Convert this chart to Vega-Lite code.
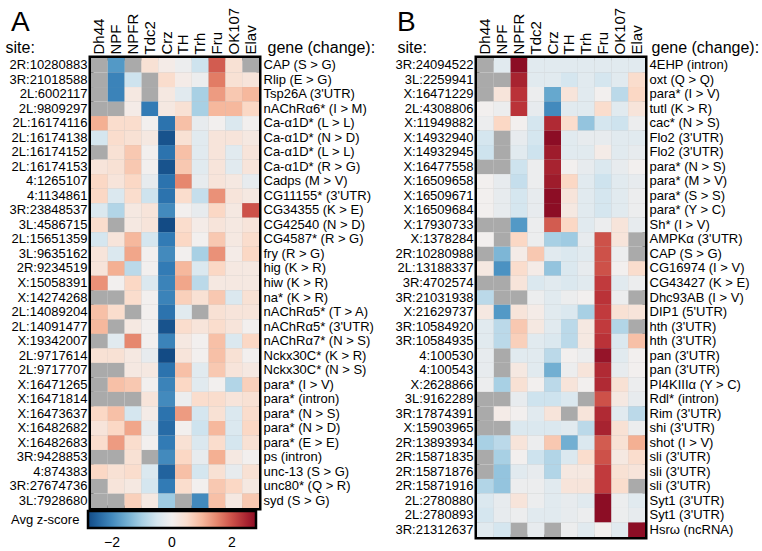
{
"$schema": "https://vega.github.io/schema/vega-lite/v6.json",
"padding": {"left": 2, "top": 4, "right": 0, "bottom": 0},
"background": "white",
"spacing": 14,
"config": {
  "font": "Liberation Sans",
  "view": {"stroke": "black", "strokeWidth": 5},
  "axis": {"domain": false, "ticks": false, "grid": false, "labelColor": "black", "titleColor": "black", "titleFontWeight": "normal"},
  "title": {"fontWeight": "normal", "color": "black"}
},
"resolve": {"scale": {"color": "independent"}},
"datasets": {
"rowsA": [
{"r":1,"k":"2R:10280883|CAP (S > G)"},{"r":2,"k":"3R:21018588|Rlip (E > G)"},{"r":3,"k":"2L:6002117|Tsp26A (3'UTR)"},{"r":4,"k":"2L:9809297|nAChRα6* (I > M)"},{"r":5,"k":"2L:16174116|Ca-α1D* (L > L)"},{"r":6,"k":"2L:16174138|Ca-α1D* (N > D)"},{"r":7,"k":"2L:16174152|Ca-α1D* (L > L)"},{"r":8,"k":"2L:16174153|Ca-α1D* (R > G)"},{"r":9,"k":"4:1265107|Cadps (M > V)"},{"r":10,"k":"4:1134861|CG11155* (3'UTR)"},{"r":11,"k":"3R:23848537|CG34355 (K > E)"},{"r":12,"k":"3L:4586715|CG42540 (N > D)"},{"r":13,"k":"2L:15651359|CG4587* (R > G)"},{"r":14,"k":"3L:9635162|fry (R > G)"},{"r":15,"k":"2R:9234519|hig (K > R)"},{"r":16,"k":"X:15058391|hiw (K > R)"},{"r":17,"k":"X:14274268|na* (K > R)"},{"r":18,"k":"2L:14089204|nAChRα5* (T > A)"},{"r":19,"k":"2L:14091477|nAChRα5* (3'UTR)"},{"r":20,"k":"X:19342007|nAChRα7* (N > S)"},{"r":21,"k":"2L:9717614|Nckx30C* (K > R)"},{"r":22,"k":"2L:9717707|Nckx30C* (N > S)"},{"r":23,"k":"X:16471265|para* (I > V)"},{"r":24,"k":"X:16471814|para* (intron)"},{"r":25,"k":"X:16473637|para* (N > S)"},{"r":26,"k":"X:16482682|para* (N > D)"},{"r":27,"k":"X:16482683|para* (E > E)"},{"r":28,"k":"3R:9428853|ps (intron)"},{"r":29,"k":"4:874383|unc-13 (S > G)"},{"r":30,"k":"3R:27674736|unc80* (Q > R)"},{"r":31,"k":"3L:7928680|syd (S > G)"}
],
"rowsB": [
{"r":1,"k":"3R:24094522|4EHP (intron)"},{"r":2,"k":"3L:2259941|oxt (Q > Q)"},{"r":3,"k":"X:16471229|para* (I > V)"},{"r":4,"k":"2L:4308806|tutl (K > R)"},{"r":5,"k":"X:11949882|cac* (N > S)"},{"r":6,"k":"X:14932940|Flo2 (3'UTR)"},{"r":7,"k":"X:14932945|Flo2 (3'UTR)"},{"r":8,"k":"X:16477558|para* (N > S)"},{"r":9,"k":"X:16509658|para* (M > V)"},{"r":10,"k":"X:16509671|para* (S > S)"},{"r":11,"k":"X:16509684|para* (Y > C)"},{"r":12,"k":"X:17930733|Sh* (I > V)"},{"r":13,"k":"X:1378284|AMPKα (3'UTR)"},{"r":14,"k":"2R:10280988|CAP (S > G)"},{"r":15,"k":"2L:13188337|CG16974 (I > V)"},{"r":16,"k":"3R:4702574|CG43427 (K > E)"},{"r":17,"k":"3R:21031938|Dhc93AB (I > V)"},{"r":18,"k":"X:21629737|DIP1 (5'UTR)"},{"r":19,"k":"3R:10584920|hth (3'UTR)"},{"r":20,"k":"3R:10584935|hth (3'UTR)"},{"r":21,"k":"4:100530|pan (3'UTR)"},{"r":22,"k":"4:100543|pan (3'UTR)"},{"r":23,"k":"X:2628866|PI4KIIIα (Y > C)"},{"r":24,"k":"3L:9162289|Rdl* (intron)"},{"r":25,"k":"3R:17874391|Rim (3'UTR)"},{"r":26,"k":"X:15903965|shi (3'UTR)"},{"r":27,"k":"2R:13893934|shot (I > V)"},{"r":28,"k":"2R:15871835|sli (3'UTR)"},{"r":29,"k":"2R:15871876|sli (3'UTR)"},{"r":30,"k":"2R:15871916|sli (3'UTR)"},{"r":31,"k":"2L:2780880|Syt1 (3'UTR)"},{"r":32,"k":"2L:2780893|Syt1 (3'UTR)"},{"r":33,"k":"3R:21312637|Hsrω (ncRNA)"}
],
"cellsA": [
{"r":1,"c":"Dh44","z":null},{"r":1,"c":"NPF","z":-1.8},{"r":1,"c":"NPFR","z":null},{"r":1,"c":"Tdc2","z":0.4},{"r":1,"c":"Crz","z":0.1},{"r":1,"c":"TH","z":-0.1},{"r":1,"c":"Trh","z":-0.6},{"r":1,"c":"Fru","z":1.9},{"r":1,"c":"OK107","z":0.4},{"r":1,"c":"Elav","z":null},
{"r":2,"c":"Dh44","z":null},{"r":2,"c":"NPF","z":-2.1},{"r":2,"c":"NPFR","z":-0.6},{"r":2,"c":"Tdc2","z":null},{"r":2,"c":"Crz","z":0.5},{"r":2,"c":"TH","z":0.1},{"r":2,"c":"Trh","z":-0.1},{"r":2,"c":"Fru","z":1.6},{"r":2,"c":"OK107","z":0.4},{"r":2,"c":"Elav","z":0.3},
{"r":3,"c":"Dh44","z":null},{"r":3,"c":"NPF","z":-2.1},{"r":3,"c":"NPFR","z":0.2},{"r":3,"c":"Tdc2","z":null},{"r":3,"c":"Crz","z":0.2},{"r":3,"c":"TH","z":-0.3},{"r":3,"c":"Trh","z":-1.0},{"r":3,"c":"Fru","z":1.3},{"r":3,"c":"OK107","z":0.8},{"r":3,"c":"Elav","z":1.0},
{"r":4,"c":"Dh44","z":null},{"r":4,"c":"NPF","z":null},{"r":4,"c":"NPFR","z":0.1},{"r":4,"c":"Tdc2","z":-2.2},{"r":4,"c":"Crz","z":0.2},{"r":4,"c":"TH","z":0.4},{"r":4,"c":"Trh","z":-1.0},{"r":4,"c":"Fru","z":1.0},{"r":4,"c":"OK107","z":1.0},{"r":4,"c":"Elav","z":0.6},
{"r":5,"c":"Dh44","z":1.1},{"r":5,"c":"NPF","z":0.5},{"r":5,"c":"NPFR","z":0.5},{"r":5,"c":"Tdc2","z":0.0},{"r":5,"c":"Crz","z":-2.3},{"r":5,"c":"TH","z":0.9},{"r":5,"c":"Trh","z":-0.2},{"r":5,"c":"Fru","z":0.0},{"r":5,"c":"OK107","z":-0.4},{"r":5,"c":"Elav","z":0.0},
{"r":6,"c":"Dh44","z":-0.5},{"r":6,"c":"NPF","z":0.5},{"r":6,"c":"NPFR","z":0.4},{"r":6,"c":"Tdc2","z":0.2},{"r":6,"c":"Crz","z":-2.7},{"r":6,"c":"TH","z":0.4},{"r":6,"c":"Trh","z":-0.3},{"r":6,"c":"Fru","z":0.3},{"r":6,"c":"OK107","z":0.3},{"r":6,"c":"Elav","z":0.2},
{"r":7,"c":"Dh44","z":null},{"r":7,"c":"NPF","z":0.4},{"r":7,"c":"NPFR","z":0.8},{"r":7,"c":"Tdc2","z":0.0},{"r":7,"c":"Crz","z":-2.3},{"r":7,"c":"TH","z":0.9},{"r":7,"c":"Trh","z":-0.3},{"r":7,"c":"Fru","z":0.3},{"r":7,"c":"OK107","z":-0.3},{"r":7,"c":"Elav","z":0.3},
{"r":8,"c":"Dh44","z":0.3},{"r":8,"c":"NPF","z":0.4},{"r":8,"c":"NPFR","z":0.8},{"r":8,"c":"Tdc2","z":0.0},{"r":8,"c":"Crz","z":-2.7},{"r":8,"c":"TH","z":0.8},{"r":8,"c":"Trh","z":-0.3},{"r":8,"c":"Fru","z":0.3},{"r":8,"c":"OK107","z":-0.3},{"r":8,"c":"Elav","z":0.3},
{"r":9,"c":"Dh44","z":0.6},{"r":9,"c":"NPF","z":0.3},{"r":9,"c":"NPFR","z":0.6},{"r":9,"c":"Tdc2","z":-0.2},{"r":9,"c":"Crz","z":-2.3},{"r":9,"c":"TH","z":1.5},{"r":9,"c":"Trh","z":-0.2},{"r":9,"c":"Fru","z":0.3},{"r":9,"c":"OK107","z":0.2},{"r":9,"c":"Elav","z":-0.2},
{"r":10,"c":"Dh44","z":0.6},{"r":10,"c":"NPF","z":-0.4},{"r":10,"c":"NPFR","z":0.5},{"r":10,"c":"Tdc2","z":-0.6},{"r":10,"c":"Crz","z":-2.3},{"r":10,"c":"TH","z":0.5},{"r":10,"c":"Trh","z":-0.7},{"r":10,"c":"Fru","z":1.4},{"r":10,"c":"OK107","z":0.3},{"r":10,"c":"Elav","z":0.2},
{"r":11,"c":"Dh44","z":-0.4},{"r":11,"c":"NPF","z":-0.9},{"r":11,"c":"NPFR","z":0.2},{"r":11,"c":"Tdc2","z":0.3},{"r":11,"c":"Crz","z":-2.0},{"r":11,"c":"TH","z":0.0},{"r":11,"c":"Trh","z":-0.2},{"r":11,"c":"Fru","z":0.6},{"r":11,"c":"OK107","z":0.2},{"r":11,"c":"Elav","z":2.0},
{"r":12,"c":"Dh44","z":0.5},{"r":12,"c":"NPF","z":null},{"r":12,"c":"NPFR","z":0.2},{"r":12,"c":"Tdc2","z":0.3},{"r":12,"c":"Crz","z":-2.8},{"r":12,"c":"TH","z":0.5},{"r":12,"c":"Trh","z":0.1},{"r":12,"c":"Fru","z":0.3},{"r":12,"c":"OK107","z":0.2},{"r":12,"c":"Elav","z":0.3},
{"r":13,"c":"Dh44","z":-0.5},{"r":13,"c":"NPF","z":0.3},{"r":13,"c":"NPFR","z":1.0},{"r":13,"c":"Tdc2","z":-0.5},{"r":13,"c":"Crz","z":-2.2},{"r":13,"c":"TH","z":0.6},{"r":13,"c":"Trh","z":0.0},{"r":13,"c":"Fru","z":0.8},{"r":13,"c":"OK107","z":0.2},{"r":13,"c":"Elav","z":0.5},
{"r":14,"c":"Dh44","z":0.3},{"r":14,"c":"NPF","z":-0.4},{"r":14,"c":"NPFR","z":1.2},{"r":14,"c":"Tdc2","z":0.0},{"r":14,"c":"Crz","z":-2.0},{"r":14,"c":"TH","z":0.0},{"r":14,"c":"Trh","z":-1.0},{"r":14,"c":"Fru","z":1.4},{"r":14,"c":"OK107","z":0.1},{"r":14,"c":"Elav","z":0.6},
{"r":15,"c":"Dh44","z":0.3},{"r":15,"c":"NPF","z":1.1},{"r":15,"c":"NPFR","z":-0.8},{"r":15,"c":"Tdc2","z":0.0},{"r":15,"c":"Crz","z":-2.2},{"r":15,"c":"TH","z":1.0},{"r":15,"c":"Trh","z":-0.4},{"r":15,"c":"Fru","z":0.6},{"r":15,"c":"OK107","z":0.2},{"r":15,"c":"Elav","z":0.2},
{"r":16,"c":"Dh44","z":1.4},{"r":16,"c":"NPF","z":0.0},{"r":16,"c":"NPFR","z":0.6},{"r":16,"c":"Tdc2","z":-0.4},{"r":16,"c":"Crz","z":-2.1},{"r":16,"c":"TH","z":1.2},{"r":16,"c":"Trh","z":-0.8},{"r":16,"c":"Fru","z":0.2},{"r":16,"c":"OK107","z":0.2},{"r":16,"c":"Elav","z":0.2},
{"r":17,"c":"Dh44","z":null},{"r":17,"c":"NPF","z":null},{"r":17,"c":"NPFR","z":0.5},{"r":17,"c":"Tdc2","z":0.0},{"r":17,"c":"Crz","z":-2.1},{"r":17,"c":"TH","z":0.7},{"r":17,"c":"Trh","z":0.4},{"r":17,"c":"Fru","z":0.8},{"r":17,"c":"OK107","z":-0.4},{"r":17,"c":"Elav","z":0.4},
{"r":18,"c":"Dh44","z":0.9},{"r":18,"c":"NPF","z":0.5},{"r":18,"c":"NPFR","z":null},{"r":18,"c":"Tdc2","z":0.0},{"r":18,"c":"Crz","z":-2.3},{"r":18,"c":"TH","z":-0.3},{"r":18,"c":"Trh","z":null},{"r":18,"c":"Fru","z":0.4},{"r":18,"c":"OK107","z":0.3},{"r":18,"c":"Elav","z":0.3},
{"r":19,"c":"Dh44","z":1.0},{"r":19,"c":"NPF","z":null},{"r":19,"c":"NPFR","z":0.2},{"r":19,"c":"Tdc2","z":0.0},{"r":19,"c":"Crz","z":-2.7},{"r":19,"c":"TH","z":0.5},{"r":19,"c":"Trh","z":0.3},{"r":19,"c":"Fru","z":0.5},{"r":19,"c":"OK107","z":0.3},{"r":19,"c":"Elav","z":0.0},
{"r":20,"c":"Dh44","z":null},{"r":20,"c":"NPF","z":-0.3},{"r":20,"c":"NPFR","z":1.5},{"r":20,"c":"Tdc2","z":0.0},{"r":20,"c":"Crz","z":-2.1},{"r":20,"c":"TH","z":0.2},{"r":20,"c":"Trh","z":0.0},{"r":20,"c":"Fru","z":0.9},{"r":20,"c":"OK107","z":-0.4},{"r":20,"c":"Elav","z":0.6},
{"r":21,"c":"Dh44","z":0.4},{"r":21,"c":"NPF","z":0.4},{"r":21,"c":"NPFR","z":0.2},{"r":21,"c":"Tdc2","z":-0.2},{"r":21,"c":"Crz","z":-2.8},{"r":21,"c":"TH","z":0.3},{"r":21,"c":"Trh","z":0.0},{"r":21,"c":"Fru","z":0.9},{"r":21,"c":"OK107","z":0.4},{"r":21,"c":"Elav","z":0.0},
{"r":22,"c":"Dh44","z":null},{"r":22,"c":"NPF","z":null},{"r":22,"c":"NPFR","z":0.2},{"r":22,"c":"Tdc2","z":0.2},{"r":22,"c":"Crz","z":-2.3},{"r":22,"c":"TH","z":0.9},{"r":22,"c":"Trh","z":-0.3},{"r":22,"c":"Fru","z":0.8},{"r":22,"c":"OK107","z":0.3},{"r":22,"c":"Elav","z":0.2},
{"r":23,"c":"Dh44","z":null},{"r":23,"c":"NPF","z":0.9},{"r":23,"c":"NPFR","z":0.8},{"r":23,"c":"Tdc2","z":0.0},{"r":23,"c":"Crz","z":-2.1},{"r":23,"c":"TH","z":0.6},{"r":23,"c":"Trh","z":-0.3},{"r":23,"c":"Fru","z":0.0},{"r":23,"c":"OK107","z":-0.9},{"r":23,"c":"Elav","z":0.7},
{"r":24,"c":"Dh44","z":null},{"r":24,"c":"NPF","z":null},{"r":24,"c":"NPFR","z":null},{"r":24,"c":"Tdc2","z":0.3},{"r":24,"c":"Crz","z":-2.0},{"r":24,"c":"TH","z":-0.1},{"r":24,"c":"Trh","z":0.5},{"r":24,"c":"Fru","z":0.5},{"r":24,"c":"OK107","z":0.3},{"r":24,"c":"Elav","z":0.4},
{"r":25,"c":"Dh44","z":0.6},{"r":25,"c":"NPF","z":0.9},{"r":25,"c":"NPFR","z":-0.5},{"r":25,"c":"Tdc2","z":0.1},{"r":25,"c":"Crz","z":-2.3},{"r":25,"c":"TH","z":1.3},{"r":25,"c":"Trh","z":-0.5},{"r":25,"c":"Fru","z":0.4},{"r":25,"c":"OK107","z":-0.4},{"r":25,"c":"Elav","z":0.5},
{"r":26,"c":"Dh44","z":0.3},{"r":26,"c":"NPF","z":0.6},{"r":26,"c":"NPFR","z":1.2},{"r":26,"c":"Tdc2","z":-0.2},{"r":26,"c":"Crz","z":-2.4},{"r":26,"c":"TH","z":0.0},{"r":26,"c":"Trh","z":-0.6},{"r":26,"c":"Fru","z":1.0},{"r":26,"c":"OK107","z":-0.4},{"r":26,"c":"Elav","z":0.6},
{"r":27,"c":"Dh44","z":0.5},{"r":27,"c":"NPF","z":1.3},{"r":27,"c":"NPFR","z":0.5},{"r":27,"c":"Tdc2","z":0.0},{"r":27,"c":"Crz","z":-2.2},{"r":27,"c":"TH","z":0.4},{"r":27,"c":"Trh","z":-0.4},{"r":27,"c":"Fru","z":0.5},{"r":27,"c":"OK107","z":-0.5},{"r":27,"c":"Elav","z":0.4},
{"r":28,"c":"Dh44","z":null},{"r":28,"c":"NPF","z":null},{"r":28,"c":"NPFR","z":0.4},{"r":28,"c":"Tdc2","z":null},{"r":28,"c":"Crz","z":-2.0},{"r":28,"c":"TH","z":0.6},{"r":28,"c":"Trh","z":-0.2},{"r":28,"c":"Fru","z":1.1},{"r":28,"c":"OK107","z":0.2},{"r":28,"c":"Elav","z":0.0},
{"r":29,"c":"Dh44","z":0.6},{"r":29,"c":"NPF","z":0.4},{"r":29,"c":"NPFR","z":0.5},{"r":29,"c":"Tdc2","z":-0.4},{"r":29,"c":"Crz","z":-2.5},{"r":29,"c":"TH","z":0.9},{"r":29,"c":"Trh","z":-0.5},{"r":29,"c":"Fru","z":0.4},{"r":29,"c":"OK107","z":-0.2},{"r":29,"c":"Elav","z":0.4},
{"r":30,"c":"Dh44","z":null},{"r":30,"c":"NPF","z":0.3},{"r":30,"c":"NPFR","z":0.2},{"r":30,"c":"Tdc2","z":-0.5},{"r":30,"c":"Crz","z":-2.2},{"r":30,"c":"TH","z":0.5},{"r":30,"c":"Trh","z":0.0},{"r":30,"c":"Fru","z":0.8},{"r":30,"c":"OK107","z":0.6},{"r":30,"c":"Elav","z":0.2},
{"r":31,"c":"Dh44","z":null},{"r":31,"c":"NPF","z":null},{"r":31,"c":"NPFR","z":0.7},{"r":31,"c":"Tdc2","z":0.2},{"r":31,"c":"Crz","z":-1.1},{"r":31,"c":"TH","z":null},{"r":31,"c":"Trh","z":-2.0},{"r":31,"c":"Fru","z":0.9},{"r":31,"c":"OK107","z":0.2},{"r":31,"c":"Elav","z":0.8}
],
"cellsB": [
{"r":1,"c":"Dh44","z":null},{"r":1,"c":"NPF","z":-0.3},{"r":1,"c":"NPFR","z":2.8},{"r":1,"c":"Tdc2","z":-0.3},{"r":1,"c":"Crz","z":-0.3},{"r":1,"c":"TH","z":-0.3},{"r":1,"c":"Trh","z":-0.3},{"r":1,"c":"Fru","z":-0.3},{"r":1,"c":"OK107","z":-0.3},{"r":1,"c":"Elav","z":-0.3},
{"r":2,"c":"Dh44","z":null},{"r":2,"c":"NPF","z":null},{"r":2,"c":"NPFR","z":2.5},{"r":2,"c":"Tdc2","z":-0.3},{"r":2,"c":"Crz","z":-0.3},{"r":2,"c":"TH","z":-0.5},{"r":2,"c":"Trh","z":-0.3},{"r":2,"c":"Fru","z":-0.5},{"r":2,"c":"OK107","z":-0.3},{"r":2,"c":"Elav","z":0.5},
{"r":3,"c":"Dh44","z":null},{"r":3,"c":"NPF","z":0.3},{"r":3,"c":"NPFR","z":2.3},{"r":3,"c":"Tdc2","z":-0.1},{"r":3,"c":"Crz","z":-1.6},{"r":3,"c":"TH","z":0.3},{"r":3,"c":"Trh","z":-0.3},{"r":3,"c":"Fru","z":0.0},{"r":3,"c":"OK107","z":-0.8},{"r":3,"c":"Elav","z":0.6},
{"r":4,"c":"Dh44","z":0.0},{"r":4,"c":"NPF","z":-0.1},{"r":4,"c":"NPFR","z":2.3},{"r":4,"c":"Tdc2","z":-0.2},{"r":4,"c":"Crz","z":-2.0},{"r":4,"c":"TH","z":-0.3},{"r":4,"c":"Trh","z":-0.3},{"r":4,"c":"Fru","z":0.5},{"r":4,"c":"OK107","z":-0.3},{"r":4,"c":"Elav","z":0.3},
{"r":5,"c":"Dh44","z":-0.1},{"r":5,"c":"NPF","z":0.6},{"r":5,"c":"NPFR","z":0.0},{"r":5,"c":"Tdc2","z":-0.5},{"r":5,"c":"Crz","z":2.4},{"r":5,"c":"TH","z":0.5},{"r":5,"c":"Trh","z":-1.2},{"r":5,"c":"Fru","z":-0.5},{"r":5,"c":"OK107","z":-0.6},{"r":5,"c":"Elav","z":-0.1},
{"r":6,"c":"Dh44","z":-0.5},{"r":6,"c":"NPF","z":null},{"r":6,"c":"NPFR","z":-0.2},{"r":6,"c":"Tdc2","z":-0.5},{"r":6,"c":"Crz","z":2.8},{"r":6,"c":"TH","z":-0.3},{"r":6,"c":"Trh","z":-0.2},{"r":6,"c":"Fru","z":-0.2},{"r":6,"c":"OK107","z":-0.3},{"r":6,"c":"Elav","z":-0.3},
{"r":7,"c":"Dh44","z":-0.6},{"r":7,"c":"NPF","z":null},{"r":7,"c":"NPFR","z":-0.3},{"r":7,"c":"Tdc2","z":-0.6},{"r":7,"c":"Crz","z":2.6},{"r":7,"c":"TH","z":-0.3},{"r":7,"c":"Trh","z":-0.3},{"r":7,"c":"Fru","z":0.1},{"r":7,"c":"OK107","z":-0.3},{"r":7,"c":"Elav","z":-0.2},
{"r":8,"c":"Dh44","z":null},{"r":8,"c":"NPF","z":null},{"r":8,"c":"NPFR","z":-0.6},{"r":8,"c":"Tdc2","z":-0.1},{"r":8,"c":"Crz","z":2.5},{"r":8,"c":"TH","z":0.0},{"r":8,"c":"Trh","z":-0.2},{"r":8,"c":"Fru","z":-0.4},{"r":8,"c":"OK107","z":-0.2},{"r":8,"c":"Elav","z":0.0},
{"r":9,"c":"Dh44","z":0.0},{"r":9,"c":"NPF","z":-0.2},{"r":9,"c":"NPFR","z":-0.7},{"r":9,"c":"Tdc2","z":-0.1},{"r":9,"c":"Crz","z":2.6},{"r":9,"c":"TH","z":0.6},{"r":9,"c":"Trh","z":-0.3},{"r":9,"c":"Fru","z":-0.6},{"r":9,"c":"OK107","z":-0.3},{"r":9,"c":"Elav","z":-0.2},
{"r":10,"c":"Dh44","z":0.0},{"r":10,"c":"NPF","z":-0.2},{"r":10,"c":"NPFR","z":-0.5},{"r":10,"c":"Tdc2","z":-0.2},{"r":10,"c":"Crz","z":2.8},{"r":10,"c":"TH","z":0.3},{"r":10,"c":"Trh","z":-0.3},{"r":10,"c":"Fru","z":-0.5},{"r":10,"c":"OK107","z":-0.3},{"r":10,"c":"Elav","z":-0.1},
{"r":11,"c":"Dh44","z":0.0},{"r":11,"c":"NPF","z":-0.2},{"r":11,"c":"NPFR","z":-0.5},{"r":11,"c":"Tdc2","z":-0.2},{"r":11,"c":"Crz","z":2.8},{"r":11,"c":"TH","z":0.2},{"r":11,"c":"Trh","z":-0.3},{"r":11,"c":"Fru","z":-0.5},{"r":11,"c":"OK107","z":-0.3},{"r":11,"c":"Elav","z":-0.1},
{"r":12,"c":"Dh44","z":null},{"r":12,"c":"NPF","z":null},{"r":12,"c":"NPFR","z":-1.8},{"r":12,"c":"Tdc2","z":-0.1},{"r":12,"c":"Crz","z":1.9},{"r":12,"c":"TH","z":0.6},{"r":12,"c":"Trh","z":-0.3},{"r":12,"c":"Fru","z":-0.1},{"r":12,"c":"OK107","z":0.3},{"r":12,"c":"Elav","z":-0.2},
{"r":13,"c":"Dh44","z":0.0},{"r":13,"c":"NPF","z":null},{"r":13,"c":"NPFR","z":0.6},{"r":13,"c":"Tdc2","z":-0.1},{"r":13,"c":"Crz","z":-1.0},{"r":13,"c":"TH","z":-1.1},{"r":13,"c":"Trh","z":-0.2},{"r":13,"c":"Fru","z":2.0},{"r":13,"c":"OK107","z":0.3},{"r":13,"c":"Elav","z":null},
{"r":14,"c":"Dh44","z":null},{"r":14,"c":"NPF","z":-1.4},{"r":14,"c":"NPFR","z":0.1},{"r":14,"c":"Tdc2","z":0.8},{"r":14,"c":"Crz","z":-0.3},{"r":14,"c":"TH","z":-0.4},{"r":14,"c":"Trh","z":-0.3},{"r":14,"c":"Fru","z":2.0},{"r":14,"c":"OK107","z":-0.1},{"r":14,"c":"Elav","z":null},
{"r":15,"c":"Dh44","z":0.2},{"r":15,"c":"NPF","z":-1.9},{"r":15,"c":"NPFR","z":0.5},{"r":15,"c":"Tdc2","z":0.1},{"r":15,"c":"Crz","z":-1.2},{"r":15,"c":"TH","z":-0.4},{"r":15,"c":"Trh","z":-0.2},{"r":15,"c":"Fru","z":2.0},{"r":15,"c":"OK107","z":0.0},{"r":15,"c":"Elav","z":0.5},
{"r":16,"c":"Dh44","z":null},{"r":16,"c":"NPF","z":null},{"r":16,"c":"NPFR","z":0.3},{"r":16,"c":"Tdc2","z":-0.4},{"r":16,"c":"Crz","z":-0.3},{"r":16,"c":"TH","z":-0.4},{"r":16,"c":"Trh","z":-0.3},{"r":16,"c":"Fru","z":2.2},{"r":16,"c":"OK107","z":-0.3},{"r":16,"c":"Elav","z":-0.1},
{"r":17,"c":"Dh44","z":-0.8},{"r":17,"c":"NPF","z":null},{"r":17,"c":"NPFR","z":null},{"r":17,"c":"Tdc2","z":-0.1},{"r":17,"c":"Crz","z":-0.3},{"r":17,"c":"TH","z":-0.1},{"r":17,"c":"Trh","z":0.0},{"r":17,"c":"Fru","z":2.3},{"r":17,"c":"OK107","z":-0.1},{"r":17,"c":"Elav","z":null},
{"r":18,"c":"Dh44","z":0.2},{"r":18,"c":"NPF","z":-1.8},{"r":18,"c":"NPFR","z":0.3},{"r":18,"c":"Tdc2","z":0.1},{"r":18,"c":"Crz","z":-0.3},{"r":18,"c":"TH","z":-0.4},{"r":18,"c":"Trh","z":-1.0},{"r":18,"c":"Fru","z":2.2},{"r":18,"c":"OK107","z":0.4},{"r":18,"c":"Elav","z":0.3},
{"r":19,"c":"Dh44","z":-0.3},{"r":19,"c":"NPF","z":-0.8},{"r":19,"c":"NPFR","z":0.8},{"r":19,"c":"Tdc2","z":0.2},{"r":19,"c":"Crz","z":-0.3},{"r":19,"c":"TH","z":-0.8},{"r":19,"c":"Trh","z":0.2},{"r":19,"c":"Fru","z":2.2},{"r":19,"c":"OK107","z":-0.9},{"r":19,"c":"Elav","z":null},
{"r":20,"c":"Dh44","z":-0.3},{"r":20,"c":"NPF","z":-0.8},{"r":20,"c":"NPFR","z":0.7},{"r":20,"c":"Tdc2","z":-0.3},{"r":20,"c":"Crz","z":-0.4},{"r":20,"c":"TH","z":-0.8},{"r":20,"c":"Trh","z":0.2},{"r":20,"c":"Fru","z":2.3},{"r":20,"c":"OK107","z":-0.4},{"r":20,"c":"Elav","z":0.9},
{"r":21,"c":"Dh44","z":-0.2},{"r":21,"c":"NPF","z":null},{"r":21,"c":"NPFR","z":-0.3},{"r":21,"c":"Tdc2","z":-0.3},{"r":21,"c":"Crz","z":-0.8},{"r":21,"c":"TH","z":0.0},{"r":21,"c":"Trh","z":-0.1},{"r":21,"c":"Fru","z":2.7},{"r":21,"c":"OK107","z":-0.3},{"r":21,"c":"Elav","z":0.0},
{"r":22,"c":"Dh44","z":-0.2},{"r":22,"c":"NPF","z":null},{"r":22,"c":"NPFR","z":0.2},{"r":22,"c":"Tdc2","z":-0.3},{"r":22,"c":"Crz","z":-1.5},{"r":22,"c":"TH","z":-0.1},{"r":22,"c":"Trh","z":0.3},{"r":22,"c":"Fru","z":2.4},{"r":22,"c":"OK107","z":-0.2},{"r":22,"c":"Elav","z":0.0},
{"r":23,"c":"Dh44","z":-0.1},{"r":23,"c":"NPF","z":-1.0},{"r":23,"c":"NPFR","z":0.4},{"r":23,"c":"Tdc2","z":0.0},{"r":23,"c":"Crz","z":-0.8},{"r":23,"c":"TH","z":0.3},{"r":23,"c":"Trh","z":0.0},{"r":23,"c":"Fru","z":2.4},{"r":23,"c":"OK107","z":0.4},{"r":23,"c":"Elav","z":-0.1},
{"r":24,"c":"Dh44","z":null},{"r":24,"c":"NPF","z":null},{"r":24,"c":"NPFR","z":-0.2},{"r":24,"c":"Tdc2","z":-0.6},{"r":24,"c":"Crz","z":-0.6},{"r":24,"c":"TH","z":-0.4},{"r":24,"c":"Trh","z":null},{"r":24,"c":"Fru","z":2.0},{"r":24,"c":"OK107","z":0.2},{"r":24,"c":"Elav","z":-0.2},
{"r":25,"c":"Dh44","z":null},{"r":25,"c":"NPF","z":0.1},{"r":25,"c":"NPFR","z":0.0},{"r":25,"c":"Tdc2","z":-0.3},{"r":25,"c":"Crz","z":0.3},{"r":25,"c":"TH","z":null},{"r":25,"c":"Trh","z":0.3},{"r":25,"c":"Fru","z":2.4},{"r":25,"c":"OK107","z":-0.3},{"r":25,"c":"Elav","z":-0.8},
{"r":26,"c":"Dh44","z":null},{"r":26,"c":"NPF","z":null},{"r":26,"c":"NPFR","z":-0.4},{"r":26,"c":"Tdc2","z":-0.4},{"r":26,"c":"Crz","z":-0.4},{"r":26,"c":"TH","z":-0.3},{"r":26,"c":"Trh","z":-0.8},{"r":26,"c":"Fru","z":2.5},{"r":26,"c":"OK107","z":0.4},{"r":26,"c":"Elav","z":-0.1},
{"r":27,"c":"Dh44","z":-1.0},{"r":27,"c":"NPF","z":-0.8},{"r":27,"c":"NPFR","z":0.3},{"r":27,"c":"Tdc2","z":-0.1},{"r":27,"c":"Crz","z":0.8},{"r":27,"c":"TH","z":-1.5},{"r":27,"c":"Trh","z":-0.4},{"r":27,"c":"Fru","z":1.9},{"r":27,"c":"OK107","z":0.4},{"r":27,"c":"Elav","z":1.1},
{"r":28,"c":"Dh44","z":null},{"r":28,"c":"NPF","z":-1.0},{"r":28,"c":"NPFR","z":0.0},{"r":28,"c":"Tdc2","z":-0.6},{"r":28,"c":"Crz","z":-0.9},{"r":28,"c":"TH","z":-0.4},{"r":28,"c":"Trh","z":0.5},{"r":28,"c":"Fru","z":2.0},{"r":28,"c":"OK107","z":0.2},{"r":28,"c":"Elav","z":0.5},
{"r":29,"c":"Dh44","z":null},{"r":29,"c":"NPF","z":-1.2},{"r":29,"c":"NPFR","z":-0.3},{"r":29,"c":"Tdc2","z":-0.2},{"r":29,"c":"Crz","z":-0.9},{"r":29,"c":"TH","z":0.2},{"r":29,"c":"Trh","z":0.2},{"r":29,"c":"Fru","z":2.2},{"r":29,"c":"OK107","z":0.4},{"r":29,"c":"Elav","z":0.3},
{"r":30,"c":"Dh44","z":-0.9},{"r":30,"c":"NPF","z":-1.2},{"r":30,"c":"NPFR","z":-0.1},{"r":30,"c":"Tdc2","z":-0.1},{"r":30,"c":"Crz","z":-0.3},{"r":30,"c":"TH","z":0.3},{"r":30,"c":"Trh","z":0.3},{"r":30,"c":"Fru","z":2.2},{"r":30,"c":"OK107","z":0.5},{"r":30,"c":"Elav","z":null},
{"r":31,"c":"Dh44","z":-0.4},{"r":31,"c":"NPF","z":-0.2},{"r":31,"c":"NPFR","z":0.3},{"r":31,"c":"Tdc2","z":-0.1},{"r":31,"c":"Crz","z":-0.3},{"r":31,"c":"TH","z":-0.2},{"r":31,"c":"Trh","z":-0.3},{"r":31,"c":"Fru","z":2.8},{"r":31,"c":"OK107","z":-0.1},{"r":31,"c":"Elav","z":-0.3},
{"r":32,"c":"Dh44","z":-0.5},{"r":32,"c":"NPF","z":-0.2},{"r":32,"c":"NPFR","z":-0.1},{"r":32,"c":"Tdc2","z":-0.3},{"r":32,"c":"Crz","z":-0.3},{"r":32,"c":"TH","z":-0.2},{"r":32,"c":"Trh","z":-0.1},{"r":32,"c":"Fru","z":2.8},{"r":32,"c":"OK107","z":-0.1},{"r":32,"c":"Elav","z":-0.2},
{"r":33,"c":"Dh44","z":-0.3},{"r":33,"c":"NPF","z":-0.5},{"r":33,"c":"NPFR","z":null},{"r":33,"c":"Tdc2","z":-0.2},{"r":33,"c":"Crz","z":null},{"r":33,"c":"TH","z":-0.1},{"r":33,"c":"Trh","z":-0.3},{"r":33,"c":"Fru","z":0.0},{"r":33,"c":"OK107","z":-0.3},{"r":33,"c":"Elav","z":2.8}
]
},
"hconcat": [
{
  "width": 168, "height": 450,
  "title": {"text": "A", "anchor": "start", "frame": "bounds", "fontSize": 28, "offset": -30, "dx": 6},
  "data": {"name": "cellsA"},
  "transform": [{"lookup": "r", "from": {"data": {"name": "rowsA"}, "key": "r", "fields": ["k"]}}],
  "layer": [
    {"mark": {"type": "rect", "color": "#aaaaaa"},
     "encoding": {
       "x": {"field": "c", "type": "nominal", "sort": ["Dh44","NPF","NPFR","Tdc2","Crz","TH","Trh","Fru","OK107","Elav"],
             "axis": {"orient": "top", "labelAngle": -90, "labelFontSize": 15, "labelPadding": 4, "title": null}},
       "y": {"field": "k", "type": "nominal", "sort": {"field": "r", "op": "min"},
             "axis": {"orient": "left", "labelExpr": "split(datum.value, '|')[0]", "labelFontSize": 13, "labelPadding": 4,
                      "title": "site:", "titleAngle": 0, "titleAlign": "left", "titleBaseline": "alphabetic", "titleFontSize": 16, "titleX": -86, "titleY": -6}}
     }},
    {"transform": [{"filter": "isValid(datum.z)"}],
     "mark": "rect",
     "encoding": {
       "x": {"field": "c", "type": "nominal", "sort": ["Dh44","NPF","NPFR","Tdc2","Crz","TH","Trh","Fru","OK107","Elav"]},
       "y": {"field": "k", "type": "nominal", "sort": {"field": "r", "op": "min"},
             "axis": {"orient": "right", "labelExpr": "split(datum.value, '|')[1]", "labelFontSize": 13, "labelPadding": 4,
                      "title": "gene (change):", "titleAngle": 0, "titleAlign": "left", "titleBaseline": "alphabetic", "titleFontSize": 16, "titleX": 8, "titleY": -6}},
       "color": {"field": "z", "type": "quantitative",
                 "scale": {"scheme": "redblue", "reverse": true, "domain": [-2.8, 2.8]},
                 "legend": {"orient": "none", "legendX": -80, "legendY": 453, "direction": "horizontal", "title": "Avg z-score", "titleOrient": "left", "titleFontSize": 13, "titleFontWeight": "normal", "titleColor": "black", "titlePadding": 8, "titleBaseline": "middle",
                            "gradientLength": 168, "gradientThickness": 17, "gradientStrokeColor": "black", "gradientStrokeWidth": 2.5,
                            "values": [-2, 0, 2], "labelFontSize": 14, "labelColor": "black", "labelOffset": 8, "padding": 0}}
     }}
  ],
  "resolve": {"axis": {"y": "independent"}}
},
{
  "width": 168, "height": 479,
  "title": {"text": "B", "anchor": "start", "frame": "bounds", "fontSize": 28, "offset": -30, "dx": 2},
  "data": {"name": "cellsB"},
  "transform": [{"lookup": "r", "from": {"data": {"name": "rowsB"}, "key": "r", "fields": ["k"]}}],
  "layer": [
    {"mark": {"type": "rect", "color": "#aaaaaa"},
     "encoding": {
       "x": {"field": "c", "type": "nominal", "sort": ["Dh44","NPF","NPFR","Tdc2","Crz","TH","Trh","Fru","OK107","Elav"],
             "axis": {"orient": "top", "labelAngle": -90, "labelFontSize": 15, "labelPadding": 4, "title": null}},
       "y": {"field": "k", "type": "nominal", "sort": {"field": "r", "op": "min"},
             "axis": {"orient": "left", "labelExpr": "split(datum.value, '|')[0]", "labelFontSize": 13, "labelPadding": 4,
                      "title": "site:", "titleAngle": 0, "titleAlign": "left", "titleBaseline": "alphabetic", "titleFontSize": 16, "titleX": -80, "titleY": -6}}
     }},
    {"transform": [{"filter": "isValid(datum.z)"}],
     "mark": "rect",
     "encoding": {
       "x": {"field": "c", "type": "nominal", "sort": ["Dh44","NPF","NPFR","Tdc2","Crz","TH","Trh","Fru","OK107","Elav"]},
       "y": {"field": "k", "type": "nominal", "sort": {"field": "r", "op": "min"},
             "axis": {"orient": "right", "labelExpr": "split(datum.value, '|')[1]", "labelFontSize": 13, "labelPadding": 4,
                      "title": "gene (change):", "titleAngle": 0, "titleAlign": "left", "titleBaseline": "alphabetic", "titleFontSize": 16, "titleX": 6, "titleY": -6}},
       "color": {"field": "z", "type": "quantitative",
                 "scale": {"scheme": "redblue", "reverse": true, "domain": [-2.8, 2.8]},
                 "legend": null}
     }}
  ],
  "resolve": {"axis": {"y": "independent"}}
}
]
}
